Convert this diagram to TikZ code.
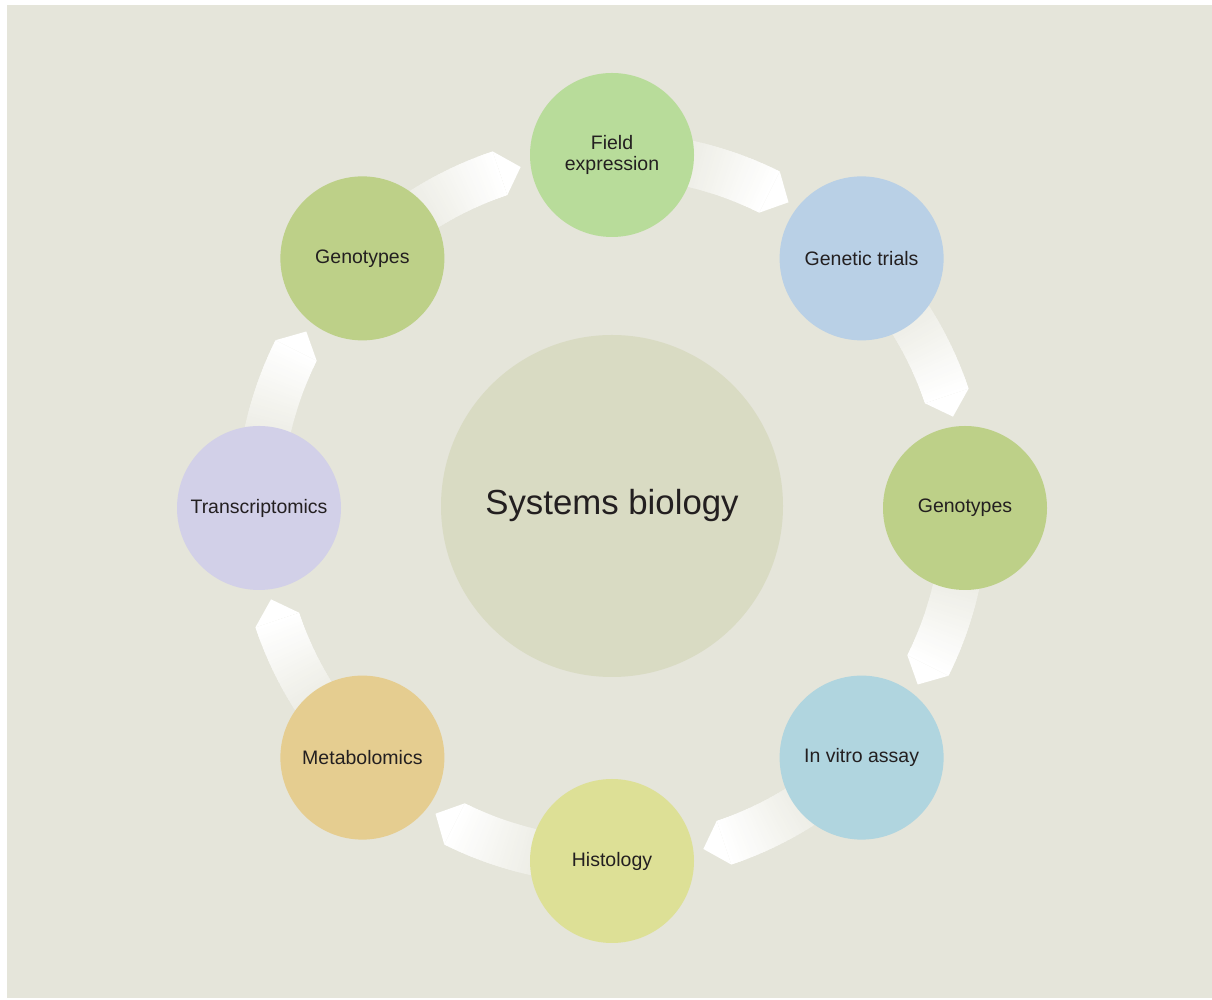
\documentclass[tikz,border=0pt]{standalone}
\usepackage{fontspec}
\setmainfont{Liberation Sans}
\usetikzlibrary{calc}
\definecolor{panel}{HTML}{E5E5DA}
\definecolor{hubfill}{HTML}{D9DBC3}
\definecolor{ink}{HTML}{231F20}
\definecolor{cfield}{HTML}{B8DC9A}
\definecolor{ctrials}{HTML}{B9D0E6}
\definecolor{cgeno}{HTML}{BDD088}
\definecolor{cvitro}{HTML}{B0D5DF}
\definecolor{chisto}{HTML}{DDE096}
\definecolor{cmeta}{HTML}{E5CD90}
\definecolor{ctrans}{HTML}{D2D0E8}
\begin{document}
\begin{tikzpicture}[x=1pt,y=1pt,
  hub/.style={circle, minimum size=342pt, inner sep=0pt, fill=hubfill, text=ink,
    font=\fontsize{34.8}{40}\selectfont},
  stage/.style={circle, minimum size=164pt, inner sep=0pt, text=ink, align=center,
    font=\fontsize{19.5}{21}\selectfont}
]
\useasboundingbox (0,0) rectangle (1212,1000);
\fill[white] (0,0) rectangle (1212,1000);
\fill[panel] (7,2) rectangle (1212,995);

\begin{scope}[shift={(612,492)}]
  % curved block arrows running clockwise round the ring,
  % each body built from thin sectors that whiten towards the head
  \foreach \k in {0,...,7}{
    \pgfmathsetmacro\b{90-45*\k}
    \pgfmathsetmacro\s{\b-6}
    \pgfmathsetmacro\c{\b-26.5}
    \pgfmathsetmacro\t{\c-3.5}
    \foreach \i in {0,...,39}{
      \pgfmathsetmacro\ao{\s-(\s-\c)*\i/40}
      \pgfmathsetmacro\at{max(\c,\s-(\s-\c)*(\i+1)/40-0.3)}
      \pgfmathsetmacro\f{(\i+1)/40*100}
      \fill[white!\f!panel]
        (\ao:376) arc[start angle=\ao, end angle=\at, radius=376]
        -- (\at:330) arc[start angle=\at, end angle=\ao, radius=330] -- cycle;
    }
    \fill[white] (\c:376) -- (\t:353) -- (\c:330) -- cycle;
  }

  \node[hub] (hub) at (0,2) {Systems biology};

  \node[stage, fill=cfield]  (field)  at (90:353)   {Field\\expression};
  \node[stage, fill=ctrials] (trials) at (45:353)   {Genetic trials};
  \node[stage, fill=cgeno]   (genoR)  at (0:353)    {Genotypes};
  \node[stage, fill=cvitro]  (vitro)  at (-45:353)  {In vitro assay};
  \node[stage, fill=chisto]  (histo)  at (-90:353)  {Histology};
  \node[stage, fill=cmeta]   (meta)   at (-135:353) {Metabolomics};
  \node[stage, fill=ctrans]  (trans)  at (180:353)  {Transcriptomics};
  \node[stage, fill=cgeno]   (genoL)  at (135:353)  {Genotypes};
\end{scope}
\end{tikzpicture}
\end{document}
